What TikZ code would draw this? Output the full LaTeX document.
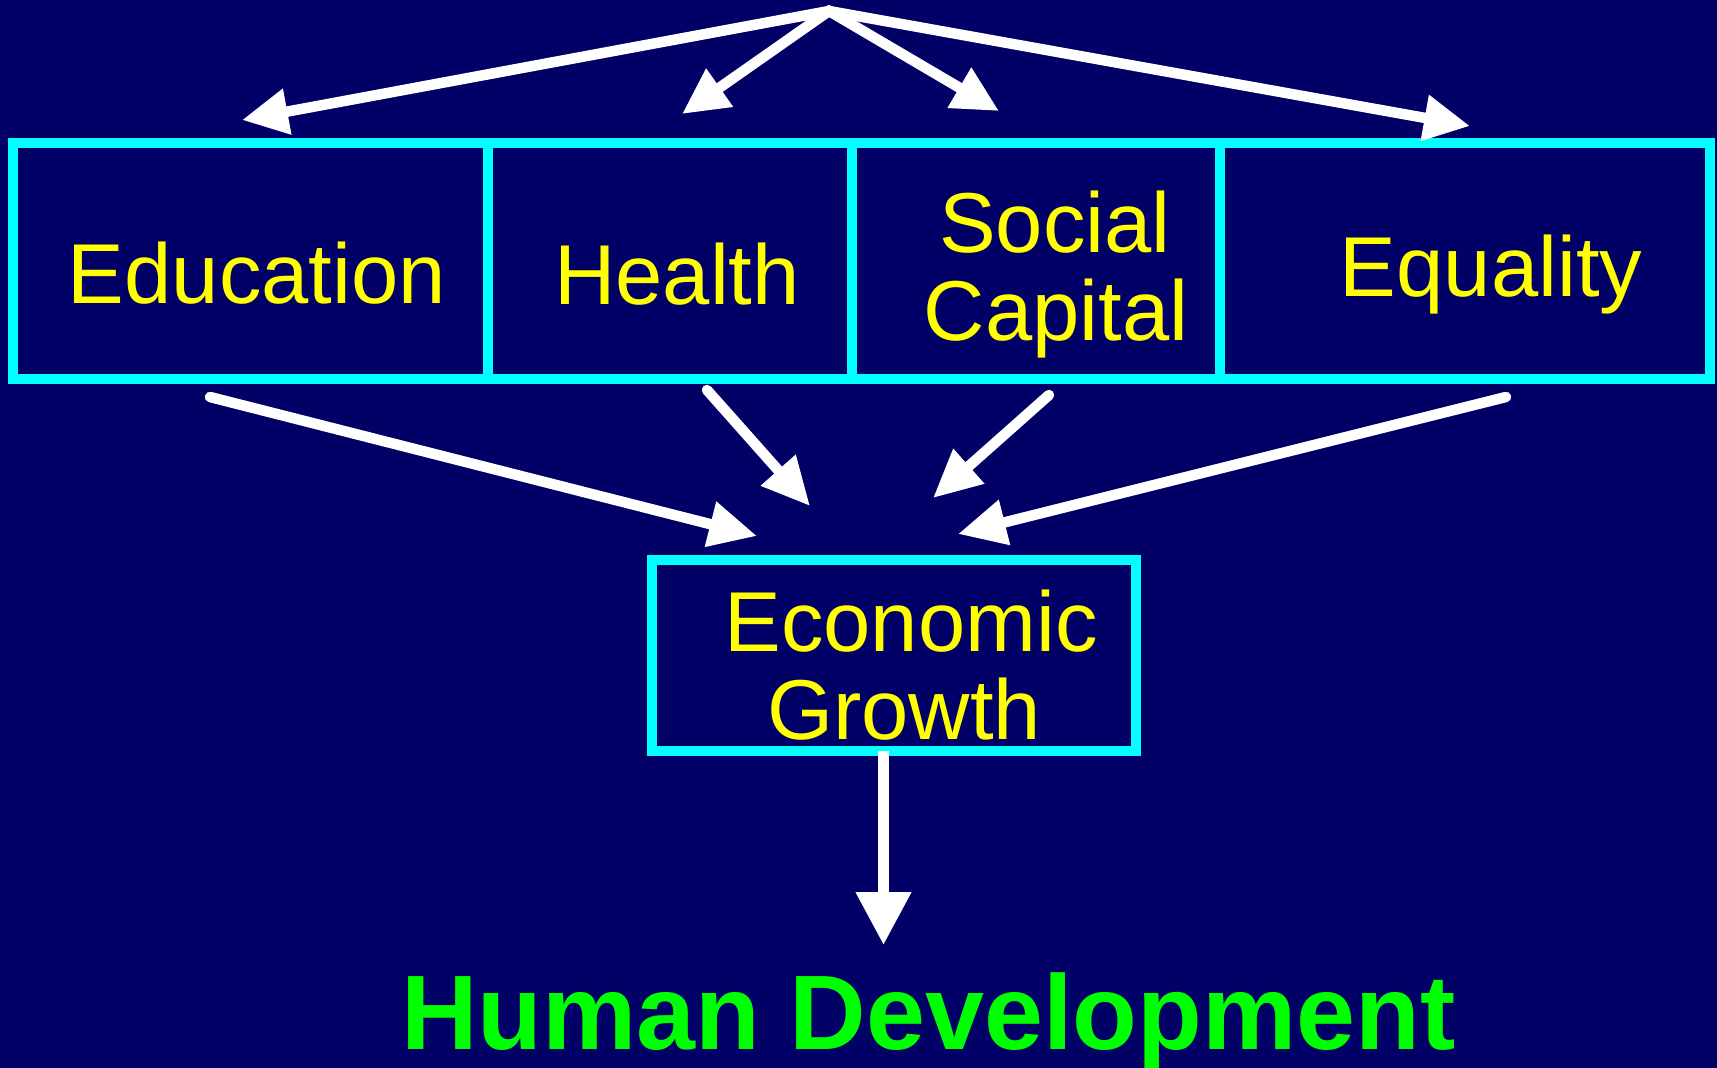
\documentclass[tikz,border=0pt]{standalone}
\usepackage{fontspec}
\setmainfont{Liberation Sans}
\usetikzlibrary{arrows.meta}
\definecolor{bg}{RGB}{0,0,102}
\definecolor{boxcyan}{RGB}{0,255,255}
\definecolor{txtyellow}{RGB}{255,255,0}
\definecolor{hdgreen}{RGB}{0,255,0}
\begin{document}
\begin{tikzpicture}[x=1pt,y=-1pt,
  box/.style={draw=boxcyan,line width=10pt,rectangle,inner sep=0pt},
  lbl/.style={text=txtyellow,font=\fontsize{85}{100}\selectfont,anchor=base,inner sep=0pt},
  arr/.style={draw=white,line width=10.5pt,-{Triangle[length=48pt,width=44pt]}},
  twoarr/.style={draw=white,line width=10.5pt,line join=miter,{Triangle[length=46pt,width=44pt]}-{Triangle[length=46pt,width=44pt]}},
  downarr/.style={draw=white,line width=11pt,-{Triangle[length=53pt,width=53pt]}}]
\fill[bg] (0,0) rectangle (1717,1068);
\useasboundingbox (0,0) rectangle (1717,1068);

% boxes
\node[box,minimum width=475.5pt,minimum height=236pt] (edu) at (250.25,261) {};
\node[box,minimum width=364pt,minimum height=236pt] (hea) at (670,261) {};
\node[box,minimum width=367.5pt,minimum height=236pt] (soc) at (1035.75,261) {};
\node[box,minimum width=490.5pt,minimum height=236pt] (equ) at (1464.75,261) {};
\node[box,minimum width=484pt,minimum height=191pt] (eg) at (894,655.5) {};

% labels
\node[lbl] (tedu) at (257,303) {Education};
\node[lbl] (thea) at (677,304) {Health};
\node[lbl] (tsoc1) at (1055,252) {Social};
\node[lbl] (tsoc2) at (1056,340) {Capital};
\node[lbl] (tequ) at (1491,296) {Equality};
\node[lbl] (teg1) at (911,651) {Economic};
\node[lbl] (teg2) at (904,739) {Growth};
\node[text=hdgreen,font=\bfseries\fontsize{106}{120}\selectfont,anchor=base,inner sep=0pt] (hd) at (928.5,1049) {Human Development};

% coordinates for arrows
\coordinate (apex) at (829,11);
\coordinate (eduTip) at (242,120);
\coordinate (heaTip) at (682,114);
\coordinate (socTip) at (999,111);
\coordinate (equTip) at (1470,126);

\coordinate (eduOut) at (210,397);
\coordinate (heaOut) at (707,390);
\coordinate (socOut) at (1049,395);
\coordinate (equOut) at (1506,397);
\coordinate (eduIn) at (757,536);
\coordinate (heaIn) at (810,506);
\coordinate (socIn) at (933,498);
\coordinate (equIn) at (958,534);

\coordinate (egOut) at (883.5,751);
\coordinate (hdIn) at (883.5,945);

% top arrows
\draw[twoarr] (eduTip) -- (apex) -- (equTip);
\draw[twoarr] (heaTip) -- (apex) -- (socTip);

% bottom arrows
\draw[arr,line cap=round] (eduOut) -- (eduIn);
\draw[arr,line cap=round] (heaOut) -- (heaIn);
\draw[arr,line cap=round] (socOut) -- (socIn);
\draw[arr,line cap=round] (equOut) -- (equIn);

% to human development
\draw[downarr] (egOut) -- (hdIn);
\end{tikzpicture}
\end{document}
